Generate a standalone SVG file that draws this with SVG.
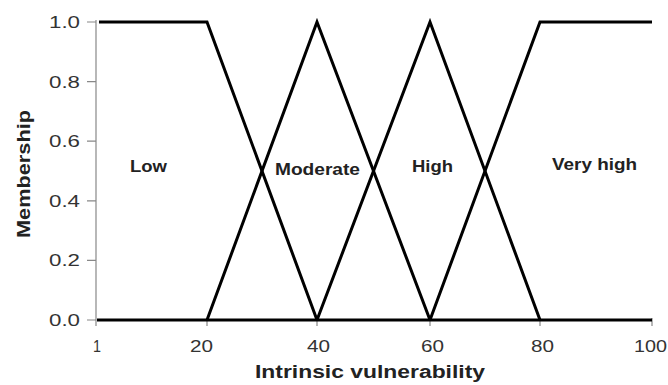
<svg xmlns="http://www.w3.org/2000/svg" width="668" height="385" viewBox="0 0 668 385">
<style>
.tick{stroke:#888;stroke-width:1.2;fill:none}
.curve{stroke:#000;stroke-width:3;fill:none;stroke-linejoin:miter}
.tl{font-family:"Liberation Sans",Arial,sans-serif;font-size:17px;fill:#333}
.lab{font-family:"Liberation Sans",Arial,sans-serif;font-size:17px;font-weight:bold;fill:#222}
.title{font-family:"Liberation Sans",Arial,sans-serif;font-size:18px;font-weight:bold;fill:#222}
</style>
<rect width="668" height="385" fill="#fff"/>
<g id="axes">
<line class="tick" x1="96" y1="20" x2="96" y2="326"/>
<path class="tick" d="M87,22H96M87,81.6H96M87,141.2H96M87,200.8H96M87,260.4H96M87,320H96"/>
<path class="tick" d="M207,320V326M317,320V326M430,320V326M540,320V326M652,318V326"/>
<g class="tl" text-anchor="end">
<text x="80" y="28" textLength="31" lengthAdjust="spacingAndGlyphs">1.0</text>
<text x="80" y="87.6" textLength="31" lengthAdjust="spacingAndGlyphs">0.8</text>
<text x="80" y="147.2" textLength="31" lengthAdjust="spacingAndGlyphs">0.6</text>
<text x="80" y="206.8" textLength="31" lengthAdjust="spacingAndGlyphs">0.4</text>
<text x="80" y="266.4" textLength="31" lengthAdjust="spacingAndGlyphs">0.2</text>
<text x="80" y="326" textLength="31" lengthAdjust="spacingAndGlyphs">0.0</text>
</g>
<g class="tl">
<text x="93" y="352" textLength="8" lengthAdjust="spacingAndGlyphs">1</text>
<text x="190" y="352" textLength="23" lengthAdjust="spacingAndGlyphs">20</text>
<text x="307" y="352" textLength="23" lengthAdjust="spacingAndGlyphs">40</text>
<text x="421" y="352" textLength="23" lengthAdjust="spacingAndGlyphs">60</text>
<text x="531" y="352" textLength="23" lengthAdjust="spacingAndGlyphs">80</text>
<text x="634" y="352" textLength="33" lengthAdjust="spacingAndGlyphs">100</text>
</g>
<text class="title" x="255" y="378" textLength="230" lengthAdjust="spacingAndGlyphs">Intrinsic vulnerability</text>
<text class="title" transform="translate(30,238) rotate(-90)" x="0" y="0" textLength="128" lengthAdjust="spacingAndGlyphs">Membership</text>
</g>
<g id="connectors">
<line class="curve" x1="97" y1="320" x2="652" y2="320"/>
</g>
<g id="low"><path class="curve" d="M99,22H207L317,320"/><text class="lab" x="130" y="172" textLength="37" lengthAdjust="spacingAndGlyphs">Low</text></g>
<g id="moderate"><path class="curve" d="M207,320L317,22L430,320"/><text class="lab" x="275" y="175" textLength="85" lengthAdjust="spacingAndGlyphs">Moderate</text></g>
<g id="high"><path class="curve" d="M317,320L430,22L540,320"/><text class="lab" x="412" y="172" textLength="41" lengthAdjust="spacingAndGlyphs">High</text></g>
<g id="veryhigh"><path class="curve" d="M430,320L540,22H652"/><text class="lab" x="552" y="170" textLength="85" lengthAdjust="spacingAndGlyphs">Very high</text></g>
</svg>
